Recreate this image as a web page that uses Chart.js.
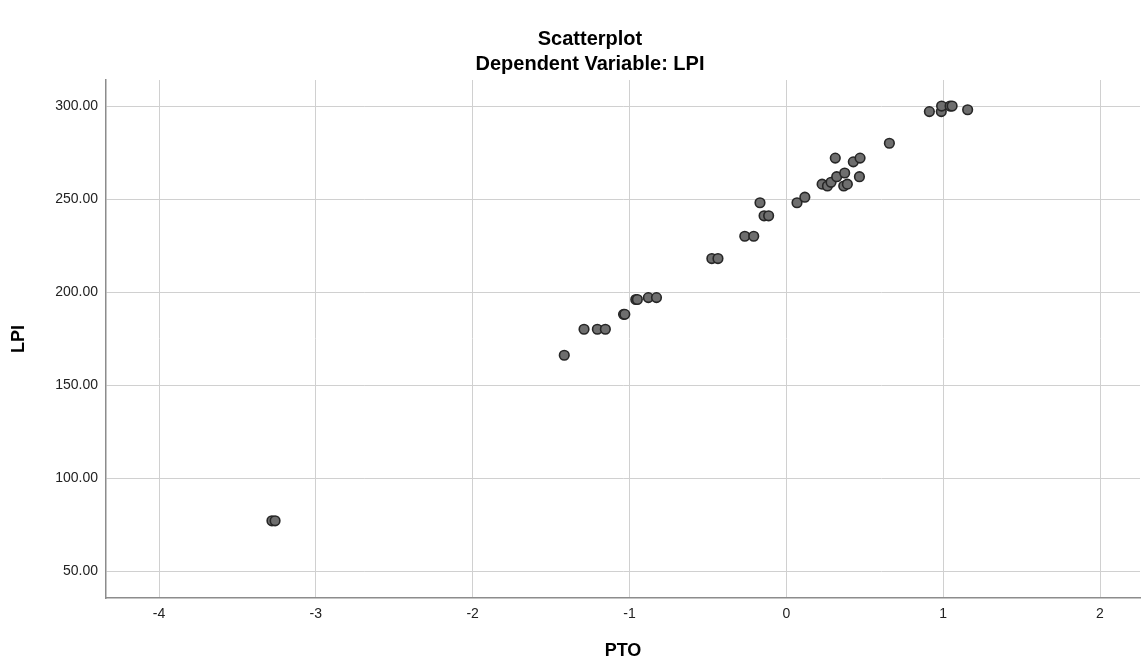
<!DOCTYPE html>
<html>
<head>
<meta charset="utf-8">
<script src="https://cdn.jsdelivr.net/npm/chart.js@4.4.1/dist/chart.umd.min.js"></script>
<style>
  html, body { margin: 0; padding: 0; background: #fff; }
  #wrap { width: 1141px; height: 664px; }
</style>
</head>
<body>
<div id="wrap"><canvas id="plot" width="1141" height="664"></canvas></div>
<script>
// PTO (x) and LPI (y) for each case
const pto = [-3.28, -3.26, -1.416, -1.29, -1.205, -1.154, -1.038, -1.03, -0.96, -0.95,
             -0.88, -0.828, -0.475, -0.436, -0.265, -0.208, -0.168, -0.142, -0.113, 0.068,
             0.118, 0.228, 0.262, 0.285, 0.312, 0.321, 0.366, 0.372, 0.389, 0.427,
             0.466, 0.47, 0.657, 0.912, 0.988, 0.99, 1.044, 1.057, 1.156];
const lpi = [77, 77, 166, 180, 180, 180, 188, 188, 196, 196,
             197, 197, 218, 218, 230, 230, 248, 241, 241, 248,
             251, 258, 257, 259, 272, 262, 257, 264, 258, 270,
             262, 272, 280, 297, 297, 300, 300, 300, 298];

const xTicks = [-4, -3, -2, -1, 0, 1, 2];
const yTicks = [50, 100, 150, 200, 250, 300];

const chartTitle = 'Scatterplot';
const chartSubtitle = 'Dependent Variable: LPI';

const points = pto.map((x, i) => ({ x: x, y: lpi[i] }));

const FONT = '"Liberation Sans", Arial, sans-serif';

// two centred title lines above the plot
const titleLines = {
  id: 'titleLines',
  afterDraw(chart) {
    const ctx = chart.ctx;
    ctx.save();
    ctx.fillStyle = '#000';
    ctx.textAlign = 'center';
    ctx.textBaseline = 'middle';
    ctx.font = 'bold 20px ' + FONT;
    ctx.fillText(chartTitle, 590, 39);
    ctx.fillText(chartSubtitle, 590, 64);
    ctx.restore();
  }
};

new Chart(document.getElementById('plot'), {
  type: 'scatter',
  data: {
    datasets: [{
      label: 'LPI',
      data: points,
      backgroundColor: '#6e6e6e',
      borderColor: '#262626',
      borderWidth: 1.6,
      pointRadius: 4.8,
      pointHoverRadius: 4.8
    }]
  },
  options: {
    responsive: false,
    animation: false,
    layout: { autoPadding: false, padding: { top: 80, right: 1, left: 0, bottom: 0 } },
    plugins: {
      legend: { display: false },
      tooltip: { enabled: false }
    },
    scales: {
      x: {
        type: 'linear',
        min: -4.338,
        max: 2.255,
        afterBuildTicks: s => { s.ticks = xTicks.map(v => ({ value: v })); },
        afterFit: s => { s.height = 66; },
        grid: { color: '#d0d0d0', lineWidth: 1, drawTicks: false },
        border: { color: '#8c8c8c', width: 1.5 },
        ticks: {
          color: '#222',
          padding: 8,
          font: { family: FONT, size: 14 },
          callback: v => String(v)
        },
        title: {
          display: true,
          text: 'PTO',
          color: '#000',
          font: { family: FONT, size: 18, weight: 'bold' },
          padding: { top: 0, bottom: 2 }
        }
      },
      y: {
        type: 'linear',
        min: 35.5,
        max: 314,
        afterBuildTicks: s => { s.ticks = yTicks.map(v => ({ value: v })); },
        afterFit: s => { s.width = 106; },
        grid: { color: '#d0d0d0', lineWidth: 1, drawTicks: false },
        border: { color: '#8c8c8c', width: 1.5 },
        ticks: {
          color: '#222',
          padding: 8,
          font: { family: FONT, size: 14 },
          callback: v => v.toFixed(2)
        },
        title: {
          display: true,
          text: 'LPI',
          color: '#000',
          font: { family: FONT, size: 18, weight: 'bold' },
          padding: { top: 8, bottom: 0 }
        }
      }
    }
  },
  plugins: [titleLines]
});
</script>
</body>
</html>
